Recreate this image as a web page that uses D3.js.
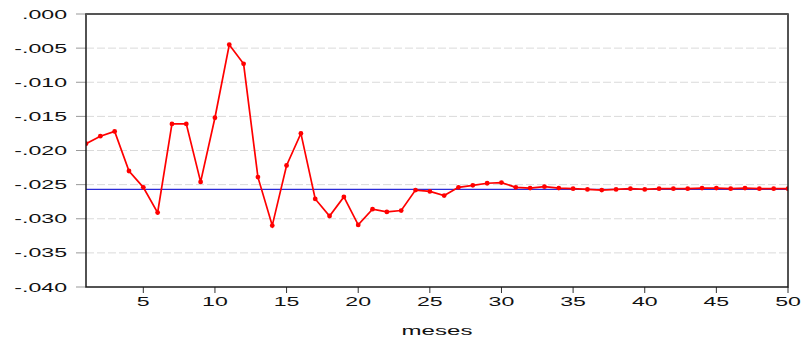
<!DOCTYPE html>
<html>
<head>
<meta charset="utf-8">
<script src="https://cdn.jsdelivr.net/npm/d3@7"></script>
<style>
  body { margin: 0; background: #fff; }
  text { font-family: "Liberation Sans", Arial, sans-serif; }
</style>
</head>
<body>
<div id="chart"></div>
<script>
var meses = [1, 2, 3, 4, 5, 6, 7, 8, 9, 10, 11, 12, 13, 14, 15, 16, 17, 18, 19, 20,
             21, 22, 23, 24, 25, 26, 27, 28, 29, 30, 31, 32, 33, 34, 35, 36, 37, 38, 39, 40,
             41, 42, 43, 44, 45, 46, 47, 48, 49, 50];
var respuesta = [-0.0190, -0.0179, -0.0172, -0.0230, -0.0254, -0.0291, -0.0161, -0.0161, -0.0246, -0.0152,
                 -0.0045, -0.0073, -0.0239, -0.0310, -0.0222, -0.0175, -0.0271, -0.0296, -0.0268, -0.0309,
                 -0.0286, -0.0290, -0.0288, -0.0258, -0.0260, -0.0266, -0.0254, -0.0251, -0.0248, -0.0247,
                 -0.0254, -0.0255, -0.0253, -0.0255, -0.0256, -0.0257, -0.0258, -0.0257, -0.0256, -0.0257,
                 -0.0256, -0.0256, -0.0256, -0.0255, -0.0255, -0.0256, -0.0255, -0.0256, -0.0256, -0.0256];
var nivel = -0.0257; // horizontal reference line
var yTicks = [0, -0.005, -0.010, -0.015, -0.020, -0.025, -0.030, -0.035, -0.040];
var yTickLabels = [".000", "-.005", "-.010", "-.015", "-.020", "-.025", "-.030", "-.035", "-.040"];
var xTicks = [5, 10, 15, 20, 25, 30, 35, 40, 45, 50];

var width = 805, height = 342,
    margin = { top: 14, right: 16, bottom: 55, left: 86 },
    fontSize = 12.5,
    stretch = 1.85; // labels in the original are drawn wide

var svg = d3.select('#chart').append('svg')
    .attr('width', width)
    .attr('height', height);

var x = d3.scaleLinear().domain([1, 50]).range([margin.left, width - margin.right - 1]);
var y = d3.scaleLinear().domain([-0.040, 0]).range([height - margin.bottom, margin.top]);

svg.append('clipPath').attr('id', 'plotClip')
    .append('rect')
    .attr('x', x(1)).attr('y', y(0))
    .attr('width', x(50) - x(1)).attr('height', y(-0.040) - y(0));

// dashed grid
svg.append('g').selectAll('line')
    .data(yTicks.slice(1, -1))
    .enter().append('line')
    .attr('x1', x(1)).attr('x2', x(50))
    .attr('y1', function(d) { return y(d); })
    .attr('y2', function(d) { return y(d); })
    .style('stroke', '#dadada')
    .style('stroke-width', 1)
    .style('stroke-dasharray', '8,3');

// y axis ticks + labels
var yAxis = svg.append('g');
yAxis.selectAll('line')
    .data(yTicks)
    .enter().append('line')
    .attr('x1', x(1) - 10).attr('x2', x(1))
    .attr('y1', function(d) { return y(d); })
    .attr('y2', function(d) { return y(d); })
    .style('stroke', '#999')
    .style('stroke-width', 1);
yAxis.selectAll('text')
    .data(yTicks)
    .enter().append('text')
    .attr('transform', function(d) { return 'translate(' + (x(1) - 19) + ',' + (y(d) + 4.5) + ') scale(' + stretch + ',1)'; })
    .attr('text-anchor', 'end')
    .style('font-size', fontSize + 'px')
    .style('fill', '#111')
    .text(function(d, i) { return yTickLabels[i]; });

// x axis ticks + labels
var xAxis = svg.append('g');
xAxis.selectAll('line')
    .data(xTicks)
    .enter().append('line')
    .attr('x1', function(d) { return x(d); })
    .attr('x2', function(d) { return x(d); })
    .attr('y1', y(-0.040)).attr('y2', y(-0.040) + 6)
    .style('stroke', '#333')
    .style('stroke-width', 1);
xAxis.selectAll('text')
    .data(xTicks)
    .enter().append('text')
    .attr('transform', function(d) { return 'translate(' + x(d) + ',' + (y(-0.040) + 19) + ') scale(' + stretch + ',1)'; })
    .attr('text-anchor', 'middle')
    .style('font-size', fontSize + 'px')
    .style('fill', '#111')
    .text(function(d) { return d; });

svg.append('text')
    .attr('transform', 'translate(' + ((x(1) + x(50)) / 2) + ',' + (y(-0.040) + 48) + ') scale(' + stretch + ',1)')
    .attr('text-anchor', 'middle')
    .style('font-size', (fontSize + 0.5) + 'px')
    .style('fill', '#111')
    .text('meses');

// reference line
svg.append('line')
    .attr('x1', x(1)).attr('x2', x(50))
    .attr('y1', y(nivel)).attr('y2', y(nivel))
    .style('stroke', '#2b2bd8')
    .style('stroke-width', 1.2);

// series
var series = meses.map(function(m, i) { return { m: m, v: respuesta[i] }; });
var plot = svg.append('g').attr('clip-path', 'url(#plotClip)');

plot.append('path')
    .datum(series)
    .attr('d', d3.line().x(function(d) { return x(d.m); }).y(function(d) { return y(d.v); }))
    .style('fill', 'none')
    .style('stroke', '#ff0000')
    .style('stroke-width', 1.7);

plot.selectAll('circle')
    .data(series)
    .enter().append('circle')
    .attr('cx', function(d) { return x(d.m); })
    .attr('cy', function(d) { return y(d.v); })
    .attr('r', 2.4)
    .style('fill', '#ff0000');

// frame
svg.append('rect')
    .attr('x', x(1)).attr('y', y(0))
    .attr('width', x(50) - x(1)).attr('height', y(-0.040) - y(0))
    .style('fill', 'none')
    .style('stroke', '#1a1a1a')
    .style('stroke-width', 1.5);
svg.append('line')
    .attr('x1', x(1)).attr('x2', x(50))
    .attr('y1', y(0)).attr('y2', y(0))
    .style('stroke', '#555')
    .style('stroke-width', 2);
</script>
</body>
</html>
